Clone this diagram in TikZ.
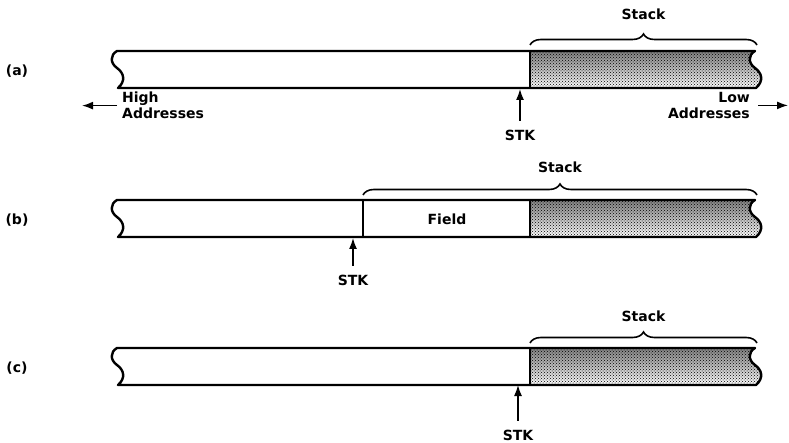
\documentclass[tikz,border=0pt]{standalone}
\usepackage{fontspec}
\setmainfont{DejaVu Sans}
\usetikzlibrary{calc}
\usetikzlibrary{arrows,arrows.meta}
\usetikzlibrary{decorations.pathreplacing}
\usetikzlibrary{patterns}
\tikzset{>=latex}
\colorlet{dots}{black}
\colorlet{shade}{black!22}
\tikzstyle{bar}=[black,line width=2.4pt,line join=round]

\begin{document}
\begin{tikzpicture}[x=1pt,y=-1pt,
    every node/.style={font=\bfseries\fontsize{14}{16}\selectfont,inner sep=0pt},
    stack/.style={pattern=crosshatch dots,pattern color=dots},
    brc/.style={decorate,decoration={brace,amplitude=11pt},line width=1.6pt},
    ptr/.style={-{Latex[length=11pt,width=8pt]},line width=1.5pt},
    stk/.style={outer sep=9pt},
  ]

  \def\L{117}  % left end of the bars
  \def\R{755}  % right end of the bars
  \def\h{37}   % bar height
  \def\S{530}  % start of the stack
  \def\F{363}  % start of the field
  % break marks at the bar ends
  \def\wavedown#1#2{.. controls ({#1-7},{#2+4}) and ({#1-7},{#2+12}) .. ({#1},{#2+17})
    .. controls ({#1+7},{#2+22}) and ({#1+9},{#2+30}) .. ({#1+1},{#2+\h})}
  \def\waveup#1#2{.. controls ({#1+9},{#2+30}) and ({#1+7},{#2+22}) .. ({#1},{#2+17})
    .. controls ({#1-7},{#2+12}) and ({#1-7},{#2+4}) .. ({#1},{#2})}

  \useasboundingbox (0,0) rectangle (789,443);

  % BARS
  \foreach \y/\lab in {51/a,200/b,348/c}{
    \fill[shade] (\S,\y) -- (\R,\y) \wavedown{\R}{\y} -- (\S,{\y+\h}) -- cycle;
    \fill[stack] (\S,\y) -- (\R,\y) \wavedown{\R}{\y} -- (\S,{\y+\h}) -- cycle;
    \draw[bar] (\L,\y) -- (\R,\y) \wavedown{\R}{\y} -- ({\L+1},{\y+\h}) \waveup{\L}{\y} -- cycle;
    \draw[bar,line width=2pt] (\S,\y) -- (\S,{\y+\h});
    \node (row\lab) at (17,{\y+20}) {(\lab)};
  }
  \draw[bar,line width=2pt] (\F,200) -- (\F,{200+\h});
  \node (field) at (447,219) {Field};

  % BRACES
  \draw[brc] (\S,45) -- (757,45) node[midway,above=24pt] (stackA) {Stack};
  \draw[brc] (\F,195) -- (757,195) node[midway,above=21pt] (stackB) {Stack};
  \draw[brc] (\S,343) -- (757,343) node[midway,above=21pt] (stackC) {Stack};

  % STK POINTERS
  \node[stk] (stkA) at (520,135) {STK};
  \node[stk] (stkB) at (353,280) {STK};
  \node[stk] (stkC) at (518,435) {STK};
  \coordinate (botA) at (520,89);
  \coordinate (botB) at (353,238);
  \coordinate (botC) at (518,385);
  \draw[ptr] (stkA) -- (botA);
  \draw[ptr] (stkB) -- (botB);
  \draw[ptr] (stkC) -- (botC);

  % ADDRESSES
  \node[anchor=north west,align=left] (high) at (122,92) {High\\Addresses};
  \node[anchor=north east,align=right] (low) at (750,92) {Low\\Addresses};
  \coordinate (hiend) at (82,107);
  \coordinate (loend) at (788,107);
  \draw[ptr,shorten <=5pt] (high.west) -- (hiend |- high.west);
  \draw[ptr,shorten <=8pt] (low.east) -- (loend |- low.east);

\end{tikzpicture}
\end{document}
